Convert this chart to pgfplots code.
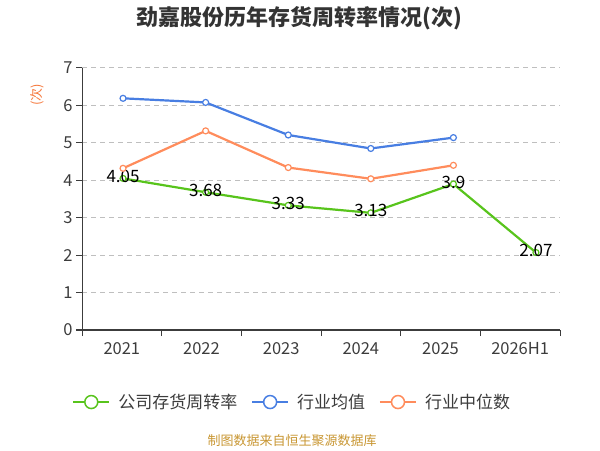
\documentclass[border=0pt]{standalone}
\usepackage{fontspec}
\usepackage{pgfplots}
\pgfplotsset{compat=1.18}
\setmainfont{Noto Sans CJK SC}
\definecolor{gc}{RGB}{88,196,28}
\definecolor{bc}{RGB}{72,126,226}
\definecolor{oc}{RGB}{255,140,92}
\definecolor{tickc}{RGB}{60,60,60}
\definecolor{titlec}{RGB}{51,51,51}
\definecolor{footc}{RGB}{200,150,50}
\definecolor{ylc}{RGB}{245,120,60}
\begin{document}
\begin{tikzpicture}[x=1pt,y=1pt]
\path (0,0) rectangle (600,450);
\node[font=\fontsize{22}{26}\selectfont\bfseries, text=titlec] at (299,432) {劲嘉股份历年存货周转率情况(次)};
\node[rotate=90, text=ylc, font=\fontsize{13}{13}\selectfont] at (37,355) {(次)};
\node[text=footc, font=\fontsize{13}{13}\selectfont] at (292,9) {制图数据来自恒生聚源数据库};
\begin{axis}[
  at={(82pt,120pt)}, anchor=south west, scale only axis,
  width=478pt, height=262pt,
  xmin=-0.5, xmax=5.5, ymin=0, ymax=7,
  axis lines*=left,
  axis line style={draw=tickc, line width=1pt, -},
  ytick={0,...,7},
  xtick={0,...,5},
  xticklabels={2021,2022,2023,2024,2025,2026H1},
  minor xtick={-0.5,0.5,...,5.5},
  major x tick style={draw=none},
  minor x tick style={draw=tickc, line width=1pt},
  y tick style={draw=tickc, line width=1pt},
  tick align=outside,
  major tick length=6pt, minor tick length=6pt,
  ymajorgrids,
  grid style={dash pattern=on 5pt off 4pt, draw=black!25, line width=1pt},
  tick label style={font=\fontsize{16.5}{16.5}\selectfont, text=tickc},
  xticklabel style={yshift=-3pt},
  /pgf/number format/assume math mode=true,
  clip=false,
  legend style={at={(0.44,-0.275)}, anchor=center, draw=none, fill=none,
    legend columns=3, font=\fontsize{17}{17}\selectfont, text=tickc,
    /tikz/every even column/.append style={column sep=12pt}},
  legend image code/.code={
    \draw[#1, mark=none, line width=1.5pt] (0pt,0pt) -- (36pt,0pt);
    \draw[#1, mark=none, line width=1.5pt, fill=white] (18pt,0pt) circle (6.5pt);
    \path (42pt,0pt);
  },
]
\addplot[color=gc, line width=2.2pt, mark=*, mark size=3pt,
  mark options={fill=white, line width=1.2pt},
  point meta=explicit symbolic, nodes near coords,
  every node near coord/.append style={anchor=center, yshift=2pt, font=\fontsize{17}{17}\selectfont, text=black}]
  coordinates {(0.015,4.05) [4.05] (1.052,3.68) [3.68] (2.089,3.33) [3.33] (3.125,3.13) [3.13] (4.162,3.90) [3.9] (5.198,2.07) [2.07]};
\addlegendentry{公司存货周转率}
\addplot[color=bc, line width=2.2pt, mark=*, mark size=3pt,
  mark options={fill=white, line width=1.2pt}]
  coordinates {(0.015,6.19) (1.052,6.08) (2.089,5.21) (3.125,4.85) (4.162,5.14)};
\addlegendentry{行业均值}
\addplot[color=oc, line width=2.2pt, mark=*, mark size=3pt,
  mark options={fill=white, line width=1.2pt}]
  coordinates {(0.015,4.32) (1.052,5.32) (2.089,4.34) (3.125,4.04) (4.162,4.40)};
\addlegendentry{行业中位数}
\end{axis}
\end{tikzpicture}
\end{document}
